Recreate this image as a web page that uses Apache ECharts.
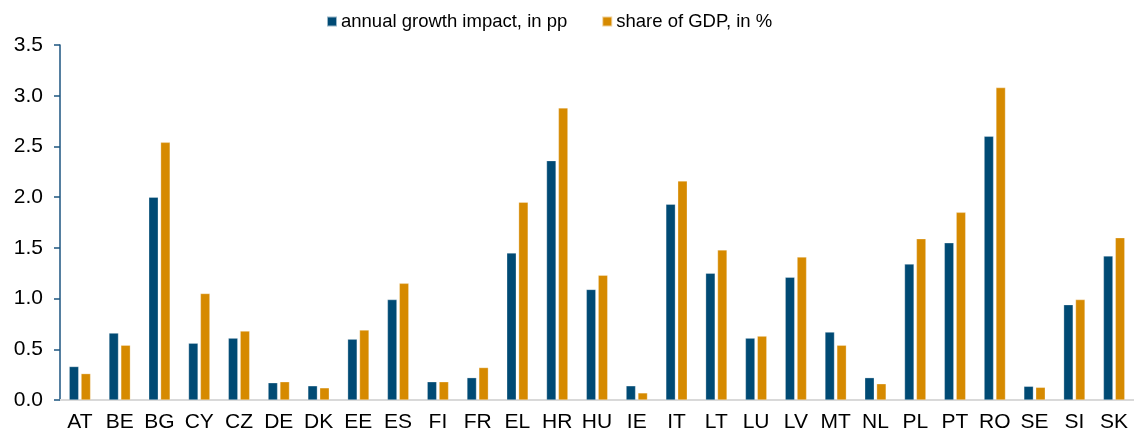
<!DOCTYPE html>
<html>
<head>
<meta charset="utf-8">
<script src="https://cdn.jsdelivr.net/npm/echarts@6/dist/echarts.min.js"></script>
<style>
html,body{margin:0;padding:0;background:#fff;}
#chart{width:1134px;height:434px;}
</style>
</head>
<body>
<div id="chart"></div>
<script>
const categories = ['AT','BE','BG','CY','CZ','DE','DK','EE','ES','FI','FR','EL','HR','HU','IE','IT','LT','LU','LV','MT','NL','PL','PT','RO','SE','SI','SK'];
const growthImpact = [0.33,0.66,2.00,0.56,0.61,0.17,0.14,0.60,0.99,0.18,0.22,1.45,2.36,1.09,0.14,1.93,1.25,0.61,1.21,0.67,0.22,1.34,1.55,2.60,0.135,0.94,1.42];
const shareGDP = [0.26,0.54,2.54,1.05,0.68,0.18,0.12,0.69,1.15,0.18,0.32,1.95,2.88,1.23,0.07,2.16,1.48,0.63,1.41,0.54,0.16,1.59,1.85,3.08,0.125,0.99,1.60];
const seriesNames = ['annual growth impact, in pp','share of GDP, in %'];
const yTicks = {min:0, max:3.5, interval:0.5};

const FONT = '"Liberation Sans", Arial, sans-serif';
const chart = echarts.init(document.getElementById('chart'));
chart.setOption({
  animation:false,
  backgroundColor:'#ffffff',
  legend:{
    left:326, top:12, padding:0,
    itemWidth:10, itemHeight:10, itemGap:34,
    icon:'rect',
    textStyle:{fontFamily:FONT, fontSize:18.5, color:'#000', padding:[0,0,0,-1]},
    data:seriesNames
  },
  grid:{left:60, top:45, bottom:34, right:-3, containLabel:false},
  xAxis:{
    type:'category', data:categories,
    axisLine:{show:true, lineStyle:{color:'#d9d9d9', width:2}},
    axisTick:{show:false},
    axisLabel:{fontFamily:FONT, fontSize:21, color:'#000', margin:12, interval:0}
  },
  yAxis:{
    type:'value', min:yTicks.min, max:yTicks.max, interval:yTicks.interval,
    axisLine:{show:true, lineStyle:{color:'#1c5580', width:1.5}},
    axisTick:{show:true, length:6, lineStyle:{color:'#1c5580', width:1.5}},
    splitLine:{show:false},
    axisLabel:{fontFamily:FONT, fontSize:21, color:'#000', margin:17, formatter:v=>v.toFixed(1)}
  },
  series:[
    {name:seriesNames[0], type:'bar', data:growthImpact, barWidth:9.5, barGap:'25%',
     itemStyle:{color:'#004a74', borderColor:'rgba(255,255,255,0.6)', borderWidth:0.5}},
    {name:seriesNames[1], type:'bar', data:shareGDP, barWidth:9.5, barGap:'25%',
     itemStyle:{color:'#d68a00', borderColor:'rgba(255,255,255,0.6)', borderWidth:0.5}}
  ]
});
</script>
</body>
</html>
